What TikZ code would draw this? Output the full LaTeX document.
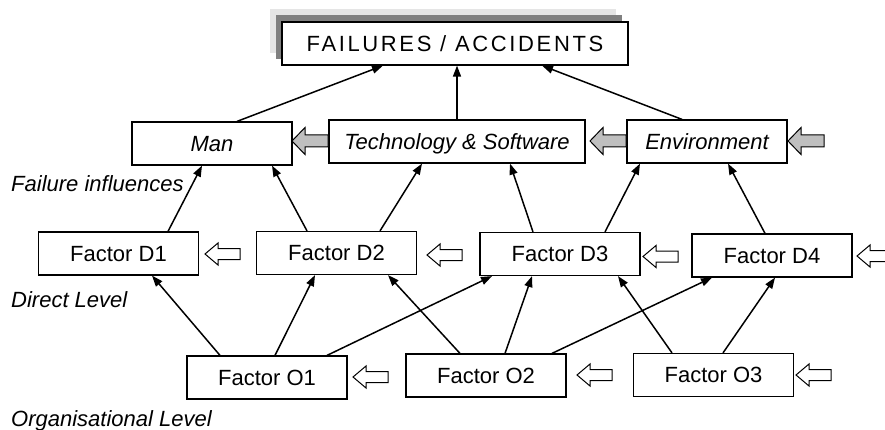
\documentclass[tikz,border=0pt]{standalone}
\usepackage{fontspec}
\setmainfont{Liberation Sans}
\newfontfamily\spacedfont[LetterSpace=12]{Liberation Sans}
\usetikzlibrary{arrows.meta,calc}

\tikzset{
  box/.style={draw=black, line width=1.2pt, fill=white, minimum width=160pt,
    minimum height=43pt, inner sep=0pt, text height=15.5pt, text depth=0pt,
    font=\fontsize{22}{26}\selectfont},
  ibox/.style={box, font=\fontsize{22}{26}\selectfont\itshape},
  lbl/.style={anchor=base west, inner sep=0pt, font=\fontsize{22}{26}\selectfont\itshape},
  link/.style={line width=1.5pt, -{Triangle[length=11pt,width=8pt]}},
  grayarrow/.pic={\draw[line width=1pt, fill=black!25]
    (0,0) -- (13,-13.5) -- (13,-6) -- (36,-6) -- (36,6) -- (13,6) -- (13,13.5) -- cycle;},
  openarrow/.pic={\draw[line width=1pt, fill=white]
    (0,0) -- (13,-11) -- (13,-5.5) -- (35,-5.5) -- (35,5.5) -- (13,5.5) -- (13,11) -- cycle;},
}

\begin{document}
\begin{tikzpicture}[x=1pt, y=-1pt]
\useasboundingbox (0,0) rectangle (885,430);
\clip (0,0) rectangle (885,430);

% stacked shadow behind the top box
\fill[black!10] (270,9) rectangle (616,53);
\fill[black!50] (276,15) rectangle (622,59);
\node[box, minimum width=346pt, font=\fontsize{22}{26}\spacedfont] (fa) at (455,43.5) {FAILURES / ACCIDENTS};

% failure influences
\node[ibox] (man)  at (212,143.5) {Man};
\node[ibox, minimum width=256pt] (tech) at (457,141.5) {Technology \& Software};
\node[ibox] (env)  at (707,141.5) {Environment};

% direct level
\node[box] (d1) at (118.5,253.5) {Factor D1};
\node[box] (d2) at (336.5,253) {Factor D2};
\node[box] (d3) at (560,254) {Factor D3};
\node[box] (d4) at (772,255.5) {Factor D4};

% organisational level
\node[box] (o1) at (267,377.5) {Factor O1};
\node[box] (o2) at (486,375.5) {Factor O2};
\node[box] (o3) at (713.5,375) {Factor O3};

% level labels
\node[lbl] (lf) at (11,191.5) {Failure influences};
\node[lbl] (ld) at (11,307) {Direct Level};
\node[lbl] (lo) at (11,426.5) {Organisational Level};

% block arrows
\pic at (292,141) {grayarrow};
\pic at (590,141) {grayarrow};
\pic at (788,141) {grayarrow};
\pic at (205,254) {openarrow};
\pic at (427,255) {openarrow};
\pic at (643,256.5) {openarrow};
\pic at (857,256) {openarrow};
\pic at (353,377) {openarrow};
\pic at (577,375) {openarrow};
\pic at (796,375) {openarrow};

% influences towards failures
\draw[link] ([xshift=25pt]man.north) -- ([xshift=-72pt]fa.south);
\draw[link] (tech.north) -- (tech.north |- fa.south);
\draw[link] ([xshift=-25pt]env.north) -- ([xshift=87pt]fa.south);

% direct factors
\draw[link] ([xshift=49.5pt]d1.north) -- ([xshift=-10pt]man.south);
\draw[link] ([xshift=-29.5pt]d2.north) -- ([xshift=60pt]man.south);
\draw[link] ([xshift=43.5pt]d2.north) -- ([xshift=-35pt]tech.south);
\draw[link] ([xshift=-27pt]d3.north) -- ([xshift=53pt]tech.south);
\draw[link] ([xshift=45pt]d3.north) -- ([xshift=-67pt]env.south);
\draw[link] ([xshift=-7pt]d4.north) -- ([xshift=21pt]env.south);

% organisational factors
\draw[link] ([xshift=-47pt]o1.north) -- ([xshift=33.5pt]d1.south);
\draw[link] ([xshift=8pt]o1.north) -- ([xshift=-21.5pt]d2.south);
\draw[link] ([xshift=60pt]o1.north) -- ([xshift=-68pt]d3.south);
\draw[link] ([xshift=-26pt]o2.north) -- ([xshift=51.5pt]d2.south);
\draw[link] ([xshift=19pt]o2.north) -- ([xshift=-28pt]d3.south);
\draw[link] ([xshift=66pt]o2.north) -- ([xshift=-60pt]d4.south);
\draw[link] ([xshift=-41.5pt]o3.north) -- ([xshift=58pt]d3.south);
\draw[link] ([xshift=9.5pt]o3.north) -- ([xshift=3pt]d4.south);
\end{tikzpicture}
\end{document}
